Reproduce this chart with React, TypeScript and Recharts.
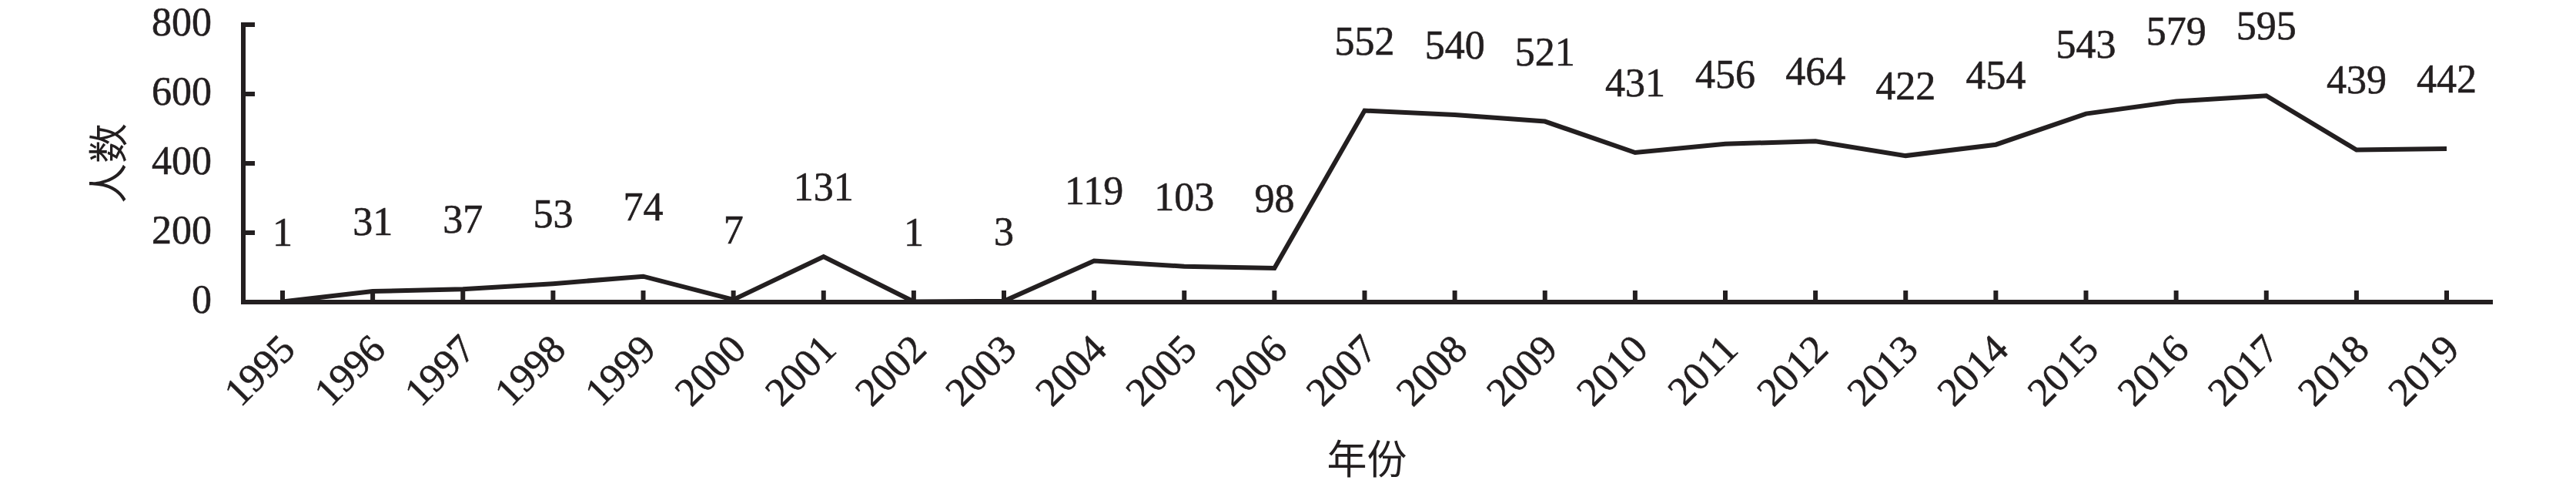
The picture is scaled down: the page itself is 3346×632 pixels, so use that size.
import { LineChart, Line, XAxis, YAxis, LabelList } from "recharts";

// 年份 / 人数
const years = [
  "1995", "1996", "1997", "1998", "1999", "2000", "2001", "2002", "2003",
  "2004", "2005", "2006", "2007", "2008", "2009", "2010", "2011", "2012",
  "2013", "2014", "2015", "2016", "2017", "2018", "2019",
];
const people = [
  1, 31, 37, 53, 74, 7, 131, 1, 3, 119, 103, 98, 552, 540, 521, 431, 456, 464,
  422, 454, 543, 579, 595, 439, 442,
];
const yTicks = [0, 200, 400, 600, 800];

const INK = "#231f20";
const FONT = "'Liberation Serif', 'Noto Sans CJK SC', serif";
const SIZE = 52;

const data = years.map((year, i) => ({ year, people: people[i] }));

const textStyle = {
  fontSize: SIZE,
  fontFamily: FONT,
  fill: INK,
  stroke: INK,
  strokeWidth: 0.6,
};

const XTick = (props: any) => {
  const { x, y, payload } = props;
  const tx = x + 19;
  const ty = y + 64;
  return (
    <g>
      <line x1={x} y1={y} x2={x} y2={y - 15} stroke={INK} strokeWidth={6} />
      <text
        x={tx}
        y={ty}
        transform={`rotate(-45, ${tx}, ${ty})`}
        textAnchor="end"
        {...textStyle}
      >
        {payload.value}
      </text>
    </g>
  );
};

const YTick = (props: any) => {
  const { x, y, payload } = props;
  return (
    <g>
      <line x1={x} y1={y} x2={x + 15} y2={y} stroke={INK} strokeWidth={6} />
      <text x={x - 41} y={y + 14} textAnchor="end" {...textStyle}>
        {payload.value}
      </text>
    </g>
  );
};

const renderValue = (props: any) => {
  const { x, y, value } = props;
  return (
    <text x={x} y={y - 73} textAnchor="middle" {...textStyle}>
      {value}
    </text>
  );
};

const renderXTitle = (props: any) => {
  const vb = props.viewBox;
  return (
    <text
      x={vb.x + vb.width / 2}
      y={vb.y + 223}
      textAnchor="middle"
      {...textStyle}
      strokeWidth={0}
    >
      年份
    </text>
  );
};

const renderYTitle = (props: any) => {
  const vb = props.viewBox;
  const cx = 160;
  const cy = vb.y + vb.height / 2;
  return (
    <text
      x={cx}
      y={cy}
      transform={`rotate(-90, ${cx}, ${cy})`}
      textAnchor="middle"
      {...textStyle}
      strokeWidth={0}
    >
      人数
    </text>
  );
};

export default function App() {
  return (
    <div style={{ margin: -8 }}>
      <LineChart
        width={3346}
        height={632}
        data={data}
        margin={{ top: 32, right: 111, left: 0, bottom: 0 }}
      >
        <XAxis
          dataKey="year"
          height={240}
          padding={{ left: 51, right: 57 }}
          axisLine={{ stroke: INK, strokeWidth: 6, strokeLinecap: "square" }}
          tickLine={false}
          tickSize={0}
          tickMargin={0}
          interval={0}
          tick={<XTick />}
          label={{ content: renderXTitle }}
        />
        <YAxis
          width={316}
          domain={[0, 800]}
          ticks={yTicks}
          axisLine={{ stroke: INK, strokeWidth: 6, strokeLinecap: "square" }}
          tickLine={false}
          tickSize={0}
          tickMargin={0}
          tick={<YTick />}
          label={{ content: renderYTitle }}
        />
        <Line
          type="linear"
          dataKey="people"
          stroke={INK}
          strokeWidth={6}
          dot={false}
          isAnimationActive={false}
        >
          <LabelList dataKey="people" content={renderValue} />
        </Line>
      </LineChart>
    </div>
  );
}
